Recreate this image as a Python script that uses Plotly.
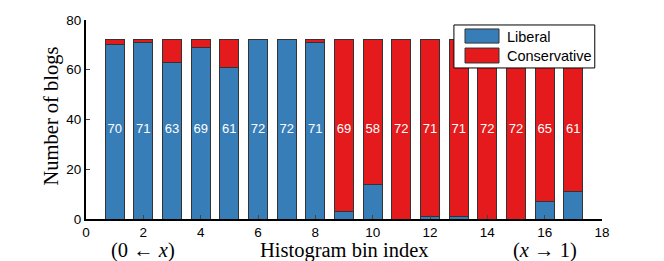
import plotly.graph_objects as go

bins = list(range(1, 18))
liberal = [70, 71, 63, 69, 61, 72, 72, 71, 3, 14, 0, 1, 1, 0, 0, 7, 11]
conservative = [2, 1, 9, 3, 11, 0, 0, 1, 69, 58, 72, 71, 71, 72, 72, 65, 61]
series_names = ["Liberal", "Conservative"]
majority = [max(l, c) for l, c in zip(liberal, conservative)]
totals = [l + c for l, c in zip(liberal, conservative)]

blue = "#377eb8"
red = "#e41a1c"
edge = "#333333"
sans = "Liberation Sans, Arial, sans-serif"
serif = "Liberation Serif, Times New Roman, serif"

fig = go.Figure()
fig.add_trace(go.Bar(x=bins, y=liberal, name=series_names[0],
                     marker=dict(color=blue, line=dict(color=edge, width=1)), width=0.66, showlegend=False))
fig.add_trace(go.Bar(x=bins, y=conservative, name=series_names[1],
                     marker=dict(color=red, line=dict(color=edge, width=1)), width=0.66, showlegend=False))
fig.add_trace(go.Scatter(x=bins, y=[t / 2 for t in totals], text=[str(m) for m in majority], mode="text",
                         textfont=dict(color="white", size=13, family=sans), showlegend=False, hoverinfo="skip"))

fig.update_layout(
    barmode="stack",
    width=656, height=253,
    margin=dict(l=78, r=62, t=12, b=42, autoexpand=False),
    plot_bgcolor="white", paper_bgcolor="white",
    font=dict(family=sans, size=13.5, color="black"),
    xaxis=dict(range=[0, 18], tickvals=list(range(0, 19, 2)), ticks="inside", ticklen=4,
               showline=True, linecolor="black", linewidth=2, showgrid=False, zeroline=False,
               tickfont=dict(size=13.5, family=sans)),
    yaxis=dict(range=[0, 80], tickvals=[0, 20, 40, 60, 80], ticks="inside", ticklen=4,
               showline=True, linecolor="black", linewidth=2, showgrid=False, zeroline=False,
               tickfont=dict(size=13.5, family=sans)),
)

# y-axis title
fig.add_annotation(x=-0.066, y=0.52, xref="paper", yref="paper", xanchor="center", yanchor="middle",
                   textangle=-90, showarrow=False, text="Number of blogs", font=dict(family=serif, size=20.5))
# x-axis labels
ylab = -0.156
fig.add_annotation(x=9, y=ylab, xref="x", yref="paper", yanchor="middle", showarrow=False,
                   text="Histogram bin index", font=dict(family=serif, size=20.5))
fig.add_annotation(x=2, y=ylab, xref="x", yref="paper", yanchor="middle", showarrow=False,
                   text="(0 ← <i>x</i>)", font=dict(family=serif, size=20.5))
fig.add_annotation(x=16, y=ylab, xref="x", yref="paper", yanchor="middle", showarrow=False,
                   text="(<i>x</i> → 1)", font=dict(family=serif, size=20.5))

# legend box
fig.add_shape(type="rect", xref="paper", yref="paper", x0=0.713, x1=0.986, y0=0.759, y1=0.975,
              fillcolor="white", line=dict(color="black", width=1), layer="above")
for name, col, y0, y1, ym in [(series_names[0], blue, 0.884, 0.955, 0.915),
                              (series_names[1], red, 0.784, 0.859, 0.819)]:
    fig.add_shape(type="rect", xref="paper", yref="paper", x0=0.7345, x1=0.8004, y0=y0, y1=y1,
                  fillcolor=col, line=dict(color=edge, width=1), layer="above")
    fig.add_annotation(x=0.812, y=ym, xref="paper", yref="paper", xanchor="left", yanchor="middle",
                       showarrow=False, text=name, font=dict(family=sans, size=14.5))

fig.write_html("out.html")
